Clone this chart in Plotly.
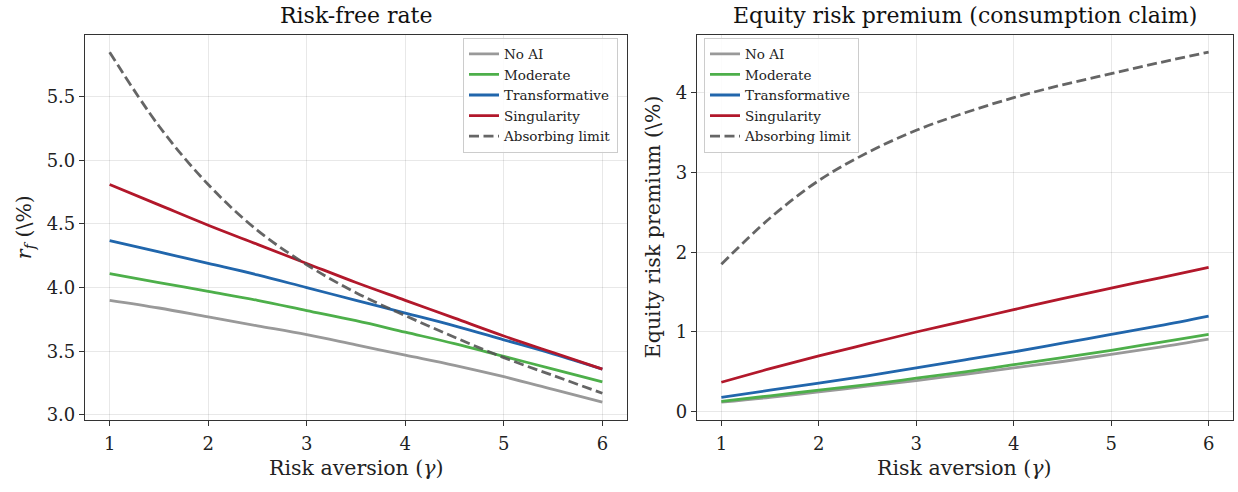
import plotly.graph_objects as go

# ---- data ----
gamma = [1.0, 1.5, 2.0, 2.5, 3.0, 3.5, 4.0, 4.5, 5.0, 5.5, 6.0]

rf_no_ai = [3.90, 3.84, 3.77, 3.70, 3.63, 3.55, 3.47, 3.39, 3.30, 3.20, 3.10]
rf_moderate = [4.11, 4.04, 3.97, 3.90, 3.82, 3.74, 3.65, 3.56, 3.46, 3.36, 3.26]
rf_transformative = [4.37, 4.28, 4.19, 4.10, 4.00, 3.90, 3.80, 3.70, 3.59, 3.48, 3.36]
rf_singularity = [4.81, 4.65, 4.49, 4.34, 4.19, 4.04, 3.90, 3.76, 3.62, 3.49, 3.36]
rf_absorbing = [5.85, 5.27, 4.81, 4.45, 4.18, 3.96, 3.78, 3.61, 3.45, 3.31, 3.17]

erp_no_ai = [0.12, 0.18, 0.25, 0.32, 0.39, 0.47, 0.55, 0.63, 0.72, 0.81, 0.91]
erp_moderate = [0.13, 0.20, 0.27, 0.34, 0.42, 0.50, 0.59, 0.68, 0.77, 0.87, 0.97]
erp_transformative = [0.18, 0.27, 0.36, 0.45, 0.55, 0.65, 0.75, 0.86, 0.97, 1.08, 1.20]
erp_singularity = [0.37, 0.54, 0.70, 0.85, 1.00, 1.14, 1.28, 1.42, 1.55, 1.68, 1.81]
erp_absorbing = [1.85, 2.43, 2.90, 3.25, 3.53, 3.75, 3.94, 4.10, 4.24, 4.38, 4.51]

scenario_names = ["No AI", "Moderate", "Transformative", "Singularity", "Absorbing limit"]
colors = ["#999999", "#4daf4a", "#2166ac", "#b2182b", "#555555"]

titles = ["Risk-free rate", "Equity risk premium (consumption claim)"]
x_title = "Risk aversion (<i>γ</i>)"
y_titles = ["<i>r</i><sub><i>f</i></sub> (\\%)", "Equity risk premium (\\%)"]

FONT = "DejaVu Serif"
W, H = 1238, 492

fig = go.Figure()

left_series = [rf_no_ai, rf_moderate, rf_transformative, rf_singularity, rf_absorbing]
right_series = [erp_no_ai, erp_moderate, erp_transformative, erp_singularity, erp_absorbing]

for panel, series in enumerate([left_series, right_series]):
    sfx = "" if panel == 0 else "2"
    for i, (name, ys) in enumerate(zip(scenario_names, series)):
        dashed = i == 4
        fig.add_trace(go.Scatter(
            x=gamma, y=ys, mode="lines", name=name, line_shape="spline",
            line=dict(color=colors[i], width=2.8, dash="10px,4.5px" if dashed else "solid"),
            opacity=0.9 if dashed else 1.0,
            xaxis="x" + sfx, yaxis="y" + sfx, legend="legend" + sfx,
        ))

ydom = [1 - 424 / H, 1 - 35 / H]
xdom1 = [85 / W, 627 / W]
xdom2 = [697 / W, 1233 / W]

axis_common = dict(
    showline=True, mirror=True, linecolor="#333333", linewidth=1.2,
    showgrid=True, gridcolor="rgba(0,0,0,0.09)", gridwidth=1,
    ticks="outside", ticklen=5, tickwidth=1, tickcolor="#333333",
    tickfont=dict(family=FONT, size=18, color="#222222"),
    zeroline=False,
)

legend_common = dict(
    yanchor="top", y=1 - 38 / H,
    bgcolor="rgba(255,255,255,0.85)", bordercolor="#cccccc", borderwidth=1,
    font=dict(family=FONT, size=13.5, color="#222222"), itemwidth=30, tracegroupgap=0,
)

annotations = []
for dom, t in zip([xdom1, xdom2], titles):
    annotations.append(dict(text=t, x=(dom[0] + dom[1]) / 2, y=1 - 16 / H, xref="paper", yref="paper",
                            showarrow=False, font=dict(family=FONT, size=22, color="#111111"),
                            xanchor="center", yanchor="middle"))
    annotations.append(dict(text=x_title, x=(dom[0] + dom[1]) / 2, y=1 - 473 / H, xref="paper", yref="paper",
                            showarrow=False, font=dict(family=FONT, size=20.5, color="#222222"),
                            xanchor="center", yanchor="middle"))
for xc, t in zip([25, 653], y_titles):
    annotations.append(dict(text=t, x=xc / W, y=(ydom[0] + ydom[1]) / 2, xref="paper", yref="paper",
                            showarrow=False, textangle=-90, font=dict(family=FONT, size=20.5, color="#222222"),
                            xanchor="center", yanchor="middle"))

fig.update_layout(
    width=W, height=H,
    margin=dict(l=0, r=0, t=0, b=0),
    paper_bgcolor="white", plot_bgcolor="white",
    font=dict(family=FONT, color="#222222"),
    xaxis=dict(domain=xdom1, range=[0.75, 6.25], dtick=1, anchor="y", ticklabelstandoff=3, **axis_common),
    yaxis=dict(domain=ydom, range=[2.9625, 5.9875], dtick=0.5, tickformat=".1f", anchor="x", **axis_common),
    xaxis2=dict(domain=xdom2, range=[0.75, 6.25], dtick=1, anchor="y2", ticklabelstandoff=3, **axis_common),
    yaxis2=dict(domain=ydom, range=[-0.10, 4.73], dtick=1, anchor="x2", **axis_common),
    legend=dict(x=618 / W, xanchor="right", **legend_common),
    legend2=dict(x=704 / W, xanchor="left", **legend_common),
    annotations=annotations,
)

fig.write_html("out.html")
